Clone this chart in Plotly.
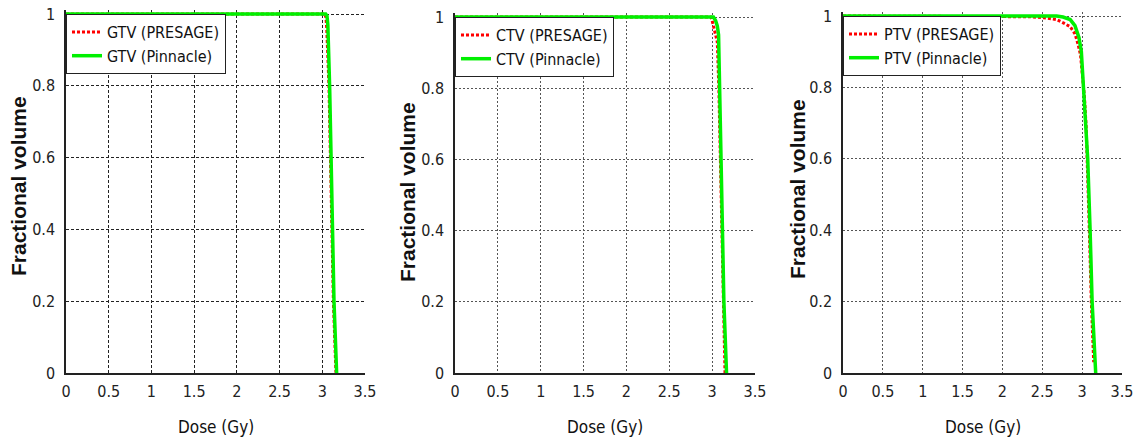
import plotly.graph_objects as go

# ---------------- data ----------------
structures = ["GTV", "CTV", "PTV"]

gtv_pinnacle_dose = [0, 3.04, 3.055, 3.065, 3.086, 3.10, 3.113, 3.137, 3.168]
gtv_pinnacle_vol = [1, 1, 0.995, 0.97, 0.8, 0.6, 0.4, 0.2, 0]
gtv_presage_dose = [0, 3.03, 3.043, 3.052, 3.078, 3.094, 3.107, 3.13, 3.16]
gtv_presage_vol = [1, 1, 0.99, 0.96, 0.8, 0.6, 0.4, 0.2, 0]

ctv_pinnacle_dose = [0, 3.015, 3.04, 3.06, 3.075, 3.086, 3.10, 3.117, 3.137, 3.168]
ctv_pinnacle_vol = [1, 1, 0.99, 0.975, 0.95, 0.8, 0.6, 0.4, 0.2, 0]
ctv_presage_dose = [0, 2.985, 3.0, 3.02, 3.04, 3.06, 3.078, 3.094, 3.11, 3.13, 3.15]
ctv_presage_vol = [1, 1, 0.99, 0.97, 0.955, 0.93, 0.8, 0.6, 0.4, 0.2, 0]

ptv_pinnacle_dose = [0, 2.68, 2.76, 2.85, 2.91, 2.96, 2.99, 3.02, 3.045, 3.07, 3.10, 3.125, 3.17]
ptv_pinnacle_vol = [1, 1, 0.997, 0.99, 0.973, 0.94, 0.90, 0.80, 0.70, 0.60, 0.40, 0.20, 0]
ptv_presage_dose = [0, 2.35, 2.52, 2.68, 2.77, 2.85, 2.91, 2.95, 2.98, 3.01, 3.03, 3.05,
                    3.065, 3.09, 3.115, 3.145]
ptv_presage_vol = [1, 0.998, 0.995, 0.99, 0.98, 0.97, 0.95, 0.92, 0.89, 0.82, 0.77, 0.69,
                   0.60, 0.40, 0.20, 0.03]

x_tick_vals = [0, 0.5, 1, 1.5, 2, 2.5, 3, 3.5]
x_tick_text = ["0", "0.5", "1", "1.5", "2", "2.5", "3", "3.5"]
y_tick_vals = [0, 0.2, 0.4, 0.6, 0.8, 1]
y_tick_text = ["0", "0.2", "0.4", "0.6", "0.8", "1"]

x_title = "Dose (Gy)"
y_title = "Fractional volume"

# ---------------- layout geometry ----------------
W, H = 1135, 443
NARROW = "DejaVu Sans Condensed, Liberation Sans Narrow, Arial Narrow, Liberation Sans, sans-serif"
BOLD = "Liberation Sans, Arial, sans-serif"


def px(v):
    return v / W


def py(v):
    return 1 - v / H


# pixel boxes: (x0, x1, y_at_1, y_at_0)
boxes = [(66, 365, 14, 373), (455, 755, 17, 373), (843, 1122, 16, 373)]
YMAX = 1.01
grid_styles = [("#222222", "3px,2px"), ("#555555", "2px,2px"), ("#555555", "2px,2px")]
ytitle_pos = [(18, 186), (407, 192), (797, 189)]

series = [
    (gtv_presage_dose, gtv_presage_vol, gtv_pinnacle_dose, gtv_pinnacle_vol),
    (ctv_presage_dose, ctv_presage_vol, ctv_pinnacle_dose, ctv_pinnacle_vol),
    (ptv_presage_dose, ptv_presage_vol, ptv_pinnacle_dose, ptv_pinnacle_vol),
]

fig = go.Figure()
layout = dict(
    width=W, height=H,
    margin=dict(l=0, r=0, t=0, b=0),
    paper_bgcolor="white", plot_bgcolor="white",
    showlegend=True,
    annotations=[],
)

for i, (name, (pd_, pv, nd, nv), (x0, x1, y1, y0), (gc, gd)) in enumerate(
        zip(structures, series, boxes, grid_styles)):
    k = "" if i == 0 else str(i + 1)
    legname = "legend" + k
    unit = y0 - y1
    top_px = y1 - (YMAX - 1) * unit
    xdom = [px(x0), px(x1)]
    ydom = [py(y0), py(top_px)]

    fig.add_trace(go.Scatter(
        x=pd_, y=pv, mode="lines", name=f"{name} (PRESAGE)",
        line=dict(color="#ff0000", width=3, dash="3px,2px"),
        xaxis="x" + k, yaxis="y" + k, legend=legname))
    fig.add_trace(go.Scatter(
        x=nd, y=nv, mode="lines", name=f"{name} (Pinnacle)",
        line=dict(color="#00f000", width=3.5),
        xaxis="x" + k, yaxis="y" + k, legend=legname))

    layout["xaxis" + k] = dict(
        domain=xdom, range=[0, 3.5], anchor="y" + k,
        tickvals=x_tick_vals, ticktext=x_tick_text,
        showgrid=True, gridcolor=gc, griddash=gd, gridwidth=1,
        showline=True, linecolor="#222222", linewidth=1.5,
        zeroline=False, ticks="", ticklabelstandoff=3,
        ticklabeloverflow="allow",
        tickfont=dict(family=NARROW, size=16, color="#222222"),
        automargin=False, fixedrange=True,
    )
    layout["yaxis" + k] = dict(
        domain=ydom, range=[0, YMAX], anchor="x" + k,
        tickvals=y_tick_vals, ticktext=y_tick_text,
        showgrid=True, gridcolor=gc, griddash=gd, gridwidth=1,
        showline=True, linecolor="#222222", linewidth=1.5,
        zeroline=False, ticks="", ticklabelstandoff=6,
        ticklabeloverflow="allow",
        tickfont=dict(family=NARROW, size=16, color="#222222"),
        automargin=False, fixedrange=True,
    )
    layout[legname] = dict(
        x=px(x0), y=py(y1), xanchor="left", yanchor="top",
        xref="paper", yref="paper",
        bgcolor="white", bordercolor="#222222", borderwidth=1,
        font=dict(family=NARROW, size=16, color="#111111"),
        itemwidth=30, tracegroupgap=0,
    )
    # axis titles
    tx, ty = ytitle_pos[i]
    layout["annotations"].append(dict(
        text=y_title, x=px(tx), y=py(ty), xref="paper", yref="paper",
        xanchor="center", yanchor="middle", textangle=-90, showarrow=False,
        font=dict(family=BOLD, size=21, color="#111111", weight="bold")))
    layout["annotations"].append(dict(
        text=x_title, x=px((x0 + x1) / 2), y=py(427), xref="paper", yref="paper",
        xanchor="center", yanchor="middle", showarrow=False,
        font=dict(family=NARROW, size=17, color="#111111")))

fig.update_layout(**layout)
# remove the browser's default 8px body margin so the figure sits at the window origin
fig.write_html("out.html", config={"displayModeBar": False},
               post_script="document.body.style.margin='0';")
